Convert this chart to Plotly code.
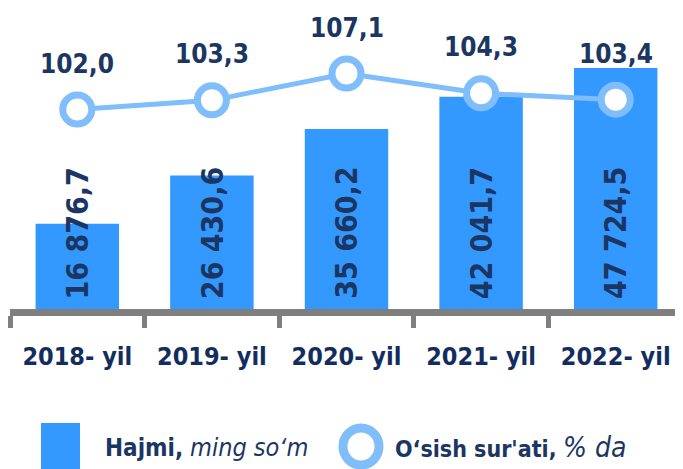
import plotly.graph_objects as go

# Data
years = ['2018- yil', '2019- yil', '2020- yil', '2021- yil', '2022- yil']
volume = [16876.7, 26430.6, 35660.2, 42041.7, 47724.5]   # Hajmi, ming so'm
growth = [102.0, 103.3, 107.1, 104.3, 103.4]             # O'sish sur'ati, % da

NAVY = '#1B3663'
TICK_NAVY = '#132E5E'
BAR_BLUE = '#3399FF'
RING_BLUE = '#80BDFB'
FONT = 'DejaVu Sans Condensed, sans-serif'

# page body adds an 8px margin, so the figure is sized to fill the rest
OFF = 8
W, H = 683 - OFF, 469 - OFF
L, R, T, B = 2, 0, 0, 160


def fmt(v):
    return f"{v:,.1f}".replace(',', ' ').replace('.', ',')


def px_x(px):
    return (px - OFF - L) / (W - L - R)


def px_y(py):
    return (H - B - (py - OFF)) / (H - B - T)


fig = go.Figure()

fig.add_trace(go.Bar(
    x=years, y=volume,
    marker=dict(color=BAR_BLUE, line=dict(width=0)),
    hoverinfo='skip',
))

fig.add_trace(go.Scatter(
    x=years, y=growth, yaxis='y2',
    mode='lines+markers',
    line=dict(color=RING_BLUE, width=5),
    marker=dict(size=29, color='white', line=dict(color=RING_BLUE, width=7)),
    cliponaxis=False,
    hoverinfo='skip',
))

# growth labels above the markers
for yr, g in zip(years, growth):
    fig.add_annotation(
        x=yr, y=g, yref='y2', yshift=46, text=fmt(g),
        showarrow=False, xanchor='center', yanchor='middle',
        font=dict(family=FONT, size=26, color=NAVY, weight='bold'),
    )

# vertical value labels inside the bars
BAR_LABEL_Y = 15000
for yr, v in zip(years, volume):
    fig.add_annotation(
        x=yr, y=BAR_LABEL_Y, text=fmt(v), textangle=-90,
        showarrow=False, xanchor='center', yanchor='middle',
        font=dict(family=FONT, size=30, color=NAVY, weight='bold'),
    )

# custom legend
fig.add_shape(type='rect', xref='paper', yref='paper',
              x0=px_x(41), x1=px_x(80), y0=px_y(469), y1=px_y(423),
              fillcolor=BAR_BLUE, line=dict(width=0))
fig.add_shape(type='circle', xref='paper', yref='paper',
              x0=px_x(343), x1=px_x(379), y0=px_y(465), y1=px_y(428),
              fillcolor='white', line=dict(color=RING_BLUE, width=9))
fig.add_annotation(
    xref='paper', yref='paper', x=px_x(103), y=px_y(447),
    xanchor='left', yanchor='middle', showarrow=False,
    text="<b>Hajmi,</b> <i><span style='font-weight:normal;font-size:25px'>ming so‘m</span></i>",
    font=dict(family=FONT, size=24, color=NAVY),
)
fig.add_annotation(
    xref='paper', yref='paper', x=px_x(393), y=px_y(447),
    xanchor='left', yanchor='middle', showarrow=False,
    text="<b>O‘sish sur'ati,</b> <i><span style='font-weight:normal;font-size:28px'>% da</span></i>",
    font=dict(family=FONT, size=23, color=NAVY),
)

fig.update_layout(
    width=W, height=H,
    margin=dict(l=L, r=R, t=T, b=B, autoexpand=False),
    paper_bgcolor='white', plot_bgcolor='white',
    showlegend=False,
    bargap=0.38,
    xaxis=dict(
        automargin=False, tickangle=0,
        showline=True, linecolor='#7F7F7F', linewidth=7,
        ticks='outside', tickson='boundaries', ticklen=12, tickwidth=5, tickcolor='#7F7F7F',
        ticklabelstandoff=19,
        tickfont=dict(family=FONT, size=25, color=TICK_NAVY, weight='bold'),
        showgrid=False, zeroline=False,
    ),
    yaxis=dict(range=[0, 59600], visible=False, showgrid=False, zeroline=False),
    yaxis2=dict(range=[73.74, 116.38], overlaying='y', visible=False, showgrid=False, zeroline=False),
)

fig.write_html("out.html")
